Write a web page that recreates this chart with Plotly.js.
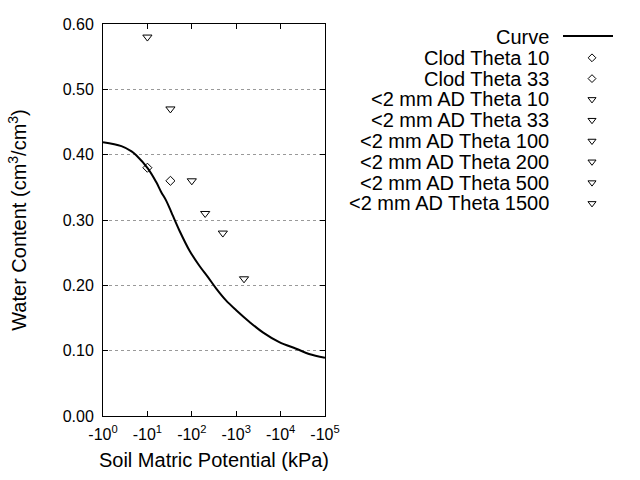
<!DOCTYPE html>
<html>
<head>
<meta charset="utf-8">
<script src="https://cdn.plot.ly/plotly-3.0.1.min.js"></script>
<style>html,body{margin:0;padding:0;background:#fff;}</style>
</head>
<body>
<div id="chart" style="width:640px;height:480px;"></div>
<script>
// ---- Data (matric potential in kPa, water content in cm3/cm3) ----
const curvePotential = [-1, -2.6, -4.4, -5.6, -10.2, -15.8, -20.4, -26.3, -33.1, -37.2, -52.5, -89.1, -148, -229, -355, -589, -1000, -1995, -3981, -9333, -22387, -43652, -100000];
const curveTheta = [0.419, 0.413, 0.405, 0.399, 0.379, 0.358, 0.343, 0.330, 0.315, 0.307, 0.284, 0.253, 0.230, 0.213, 0.195, 0.177, 0.162, 0.144, 0.128, 0.113, 0.103, 0.095, 0.089];

const clodNames = ["Clod Theta 10", "Clod Theta 33"];
const clodPotential = [-10, -33];
const clodTheta = [0.38, 0.36];

const adNames = ["<2 mm AD Theta 10", "<2 mm AD Theta 33", "<2 mm AD Theta 100", "<2 mm AD Theta 200", "<2 mm AD Theta 500", "<2 mm AD Theta 1500"];
const adPotential = [-10, -33, -100, -200, -500, -1500];
const adTheta = [0.58, 0.47, 0.36, 0.31, 0.28, 0.21];

const xTickVals = [1, 10, 100, 1000, 10000, 100000];
const xTickText = ["-10<sup>0</sup>", "-10<sup>1</sup>", "-10<sup>2</sup>", "-10<sup>3</sup>", "-10<sup>4</sup>", "-10<sup>5</sup>"];

// ---- Layout constants ----
const W = 640, H = 480;
const plotL = 103, plotR = 325, plotT = 24, plotB = 416;
const FONT = "Liberation Sans, Arial, Helvetica, sans-serif";
const legTextRight = 551, legSymX = 592, legLine = [563, 613];
const legY0 = 37, legDY = 20.8;

const absP = a => a.map(v => Math.abs(v));

const traces = [];
traces.push({
  x: absP(curvePotential), y: curveTheta, mode: "lines", name: "Curve",
  line: {color: "#000", width: 2, shape: "spline", smoothing: 1}, xaxis: "x", yaxis: "y", showlegend: false, hoverinfo: "skip"
});
clodNames.forEach((n, i) => traces.push({
  x: [Math.abs(clodPotential[i])], y: [clodTheta[i]], mode: "markers", name: n,
  marker: {symbol: "diamond-open", size: 7, color: "#000", line: {width: 1}},
  xaxis: "x", yaxis: "y", showlegend: false
}));
adNames.forEach((n, i) => traces.push({
  x: [Math.abs(adPotential[i])], y: [adTheta[i]], mode: "markers", name: n,
  marker: {symbol: "triangle-down-open", size: 8, color: "#000", line: {width: 1}},
  xaxis: "x", yaxis: "y", showlegend: false
}));

// ---- Custom legend (text left of symbol, as in reference) ----
const legNames = ["Curve"].concat(clodNames, adNames);
const legSymbols = [null].concat(clodNames.map(() => "diamond-open"), adNames.map(() => "triangle-down-open"));
const annotations = [];
legNames.forEach((n, i) => {
  const yc = legY0 + legDY * i;
  annotations.push({
    xref: "x2", yref: "y2", x: legTextRight, y: yc, text: n.replace(/</g, "&lt;"),
    showarrow: false, xanchor: "right", yanchor: "middle",
    font: {family: FONT, size: 20, color: "#000"}
  });
  if (i === 0) {
    traces.push({x: legLine, y: [yc - 1, yc - 1], mode: "lines", line: {color: "#000", width: 2},
      xaxis: "x2", yaxis: "y2", showlegend: false, hoverinfo: "skip"});
  } else {
    traces.push({x: [legSymX], y: [yc], mode: "markers",
      marker: {symbol: legSymbols[i], size: legSymbols[i] === "diamond-open" ? 6 : 7, color: "#000", line: {width: 1}},
      xaxis: "x2", yaxis: "y2", showlegend: false, hoverinfo: "skip"});
  }
});

const layout = {
  width: W, height: H, autosize: false,
  margin: {l: 0, r: 0, t: 0, b: 0, pad: 0},
  paper_bgcolor: "#fff", plot_bgcolor: "rgba(0,0,0,0)",
  showlegend: false,
  font: {family: FONT, color: "#000"},
  xaxis: {
    domain: [plotL / W, plotR / W], anchor: "y",
    type: "log", range: [0, 5],
    tickvals: xTickVals, ticktext: xTickText,
    ticks: "inside", ticklen: 5, tickcolor: "#000", tickwidth: 1,
    showline: true, linecolor: "#000", linewidth: 1, mirror: "ticks",
    showgrid: false, zeroline: false, automargin: false,
    ticklabelstandoff: 4,
    tickfont: {family: FONT, size: 16, color: "#000"},
    title: {text: "Soil Matric Potential (kPa)", font: {family: FONT, size: 20, color: "#000"}, standoff: 10}
  },
  yaxis: {
    domain: [(H - plotB) / H, (H - plotT) / H], anchor: "x",
    range: [0, 0.6], dtick: 0.1, tick0: 0, tickformat: ".2f",
    ticks: "inside", ticklen: 5, tickcolor: "#000", tickwidth: 1,
    showline: true, linecolor: "#000", linewidth: 1, mirror: "ticks",
    showgrid: true, gridcolor: "#999", griddash: "dot", gridwidth: 1,
    zeroline: false, automargin: false,
    ticklabelstandoff: 5,
    tickfont: {family: FONT, size: 16, color: "#000"},
    title: {text: "Water Content (cm<sup>3</sup>/cm<sup>3</sup>)", font: {family: FONT, size: 20, color: "#000"}, standoff: 30}
  },
  xaxis2: {domain: [0, 1], anchor: "y2", range: [0, W], visible: false, fixedrange: true},
  yaxis2: {domain: [0, 1], anchor: "x2", range: [H, 0], visible: false, fixedrange: true},
  annotations: annotations
};

Plotly.newPlot("chart", traces, layout, {staticPlot: true, displayModeBar: false});
</script>
</body>
</html>
